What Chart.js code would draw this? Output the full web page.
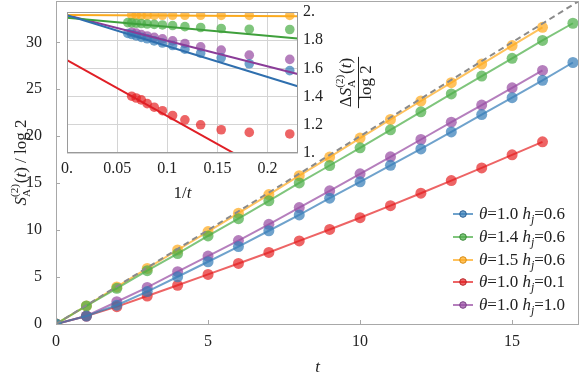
<!DOCTYPE html>
<html>
<head>
<meta charset="utf-8">
<script src="https://cdn.jsdelivr.net/npm/chart.js@4.4.1/dist/chart.umd.min.js"></script>
<style>
html,body{margin:0;padding:0;background:#fff;}
#wrap{position:relative;width:581px;height:379px;}
#main{position:absolute;left:0;top:0;width:581px;height:379px;}
#inset{position:absolute;left:0;top:0;width:400px;height:215px;}
</style>
</head>
<body>
<div id="wrap">
<canvas id="main" width="581" height="379"></canvas>
<canvas id="inset" width="400" height="215"></canvas>
</div>
<script>
// main panel: S_A^(2)(t)/log2 against t
const times = [0,1,2,3,4,5,6,7,8,9,10,11,12,13,14,15,16,17];
const sBlue   = [0,0.85,2.0,3.45,5.03,6.63,8.25,9.93,11.62,13.4,15.14,16.9,18.65,20.45,22.3,24.1,25.95,27.85];
const sGreen  = [0,1.92,3.8,5.68,7.5,9.38,11.22,13.12,15.03,16.88,18.76,20.68,22.6,24.5,26.4,28.3,30.2,32.03];
const sOrange = [0,1.93,3.95,5.92,7.88,9.84,11.8,13.78,15.8,17.78,19.8,21.78,23.75,25.7,27.68,29.65,31.6];
const sRed    = [0,0.85,1.85,2.98,4.12,5.28,6.45,7.62,8.85,10.07,11.32,12.6,13.93,15.27,16.62,18.02,19.4];
const sPurple = [0,0.85,2.37,3.9,5.57,7.23,8.88,10.62,12.4,14.18,16.0,17.8,19.65,21.5,23.32,25.15,27.0];
const boundX = [0,17.5];
const boundY = [0,35];

// inset: Delta S / log2 against 1/t
const invT13 = [0.0606,0.0645,0.0690,0.0741,0.0800,0.0870,0.0952,0.1053,0.1176,0.1333,0.1538,0.1818,0.2222];
const invT12 = [0.0645,0.0690,0.0741,0.0800,0.0870,0.0952,0.1053,0.1176,0.1333,0.1538,0.1818,0.2222];
const dBlue   = [1.848,1.84,1.83,1.82,1.81,1.795,1.78,1.762,1.736,1.708,1.675,1.633,1.584];
const dGreen  = [1.925,1.923,1.92,1.918,1.915,1.912,1.908,1.904,1.896,1.89,1.883,1.878,1.876];
const dOrange = [1.978,1.978,1.977,1.977,1.977,1.977,1.977,1.977,1.977,1.976,1.976,1.976];
const dRed    = [1.403,1.39,1.377,1.35,1.325,1.30,1.266,1.235,1.2,1.165,1.146,1.135];
const dPurple = [1.857,1.85,1.84,1.83,1.82,1.81,1.795,1.777,1.753,1.73,1.694,1.664];
const fitX = [0,0.23];
const fitBlue   = [1.977,1.473];
const fitGreen  = [1.96,1.812];
const fitOrange = [1.978,1.97];
const fitRed    = [1.659,0.746];
const fitPurple = [1.977,1.56];

const legendTheta = ['1.0','1.4','1.5','1.0','1.0'];
const legendH     = ['0.6','0.6','0.6','0.1','1.0'];

const SERIF = '"Liberation Serif", "DejaVu Serif", serif';
const C = {
  blue:   {pt:'rgba(55,126,184,0.72)', ln:'#2f6fae', dk:'#2a5f94'},
  green:  {pt:'rgba(77,175,74,0.72)',  ln:'#3fa03c', dk:'#3a8a37'},
  orange: {pt:'rgba(255,170,30,0.72)', ln:'#fbaa1e', dk:'#d98c10'},
  red:    {pt:'rgba(228,26,28,0.68)',  ln:'#e01f26', dk:'#b8262a'},
  purple: {pt:'rgba(152,78,163,0.72)', ln:'#8a3c98', dk:'#7a3f86'}
};
const order = ['blue','green','orange','red','purple'];

const pts = (xs, ys) => ys.map((v,i) => ({x: xs[i], y: v}));

// draw a run of text pieces with different fonts / offsets
function runWidth(ctx, runs){
  let w = 0;
  runs.forEach(r => { ctx.font = r.f; w += (r.w !== undefined) ? r.w : ctx.measureText(r.t).width; });
  return w;
}
function drawRuns(ctx, runs, x, y, align){
  let cx = x;
  if (align === 'center') cx = x - runWidth(ctx, runs)/2;
  runs.forEach(r => {
    ctx.font = r.f;
    ctx.fillText(r.t, cx, y + (r.dy || 0));
    cx += (r.w !== undefined) ? r.w : ctx.measureText(r.t).width;
  });
}
const it = s => 'italic ' + s + 'px ' + SERIF;
const rm = s => s + 'px ' + SERIF;

// keep chart areas where the reference has them
function noPad(s){ s.paddingTop = 0; s.paddingBottom = 0; s.paddingLeft = 0; s.paddingRight = 0; }

const mainDecor = {
  id: 'mainDecor',
  afterDraw(chart){
    const ctx = chart.ctx, a = chart.chartArea;
    const xs = chart.scales.x, ys = chart.scales.y;
    ctx.save();
    ctx.strokeStyle = '#a8a8a8';
    ctx.lineWidth = 1;
    ctx.strokeRect(a.left + 0.5, a.top + 0.5, a.right - a.left - 1, a.bottom - a.top);
    ctx.beginPath();
    xs.ticks.forEach(t => { const p = Math.round(xs.getPixelForValue(t.value)) + 0.5; ctx.moveTo(p, a.bottom); ctx.lineTo(p, a.bottom - 4); });
    ys.ticks.forEach(t => { const p = Math.round(ys.getPixelForValue(t.value)) + 0.5; ctx.moveTo(a.left, p); ctx.lineTo(a.left + 4, p); });
    ctx.stroke();

    ctx.fillStyle = '#222';
    ctx.textBaseline = 'alphabetic';
    // x title
    drawRuns(ctx, [{t:'t', f:it(17)}], (a.left + a.right)/2, 372, 'center');
    // y title
    ctx.save();
    ctx.translate(26, (a.top + a.bottom)/2);
    ctx.rotate(-Math.PI/2);
    ctx.font = rm(11);
    const w2 = ctx.measureText('(2)').width;
    drawRuns(ctx, [
      {t:'S', f:it(17)},
      {t:'(2)', f:rm(11), dy:-8, w:0},
      {t:'A', f:rm(11), dy:4, w:w2 + 1},
      {t:'(', f:rm(17)}, {t:'t', f:it(17)}, {t:')', f:rm(17)},
      {t:' / log 2', f:rm(17)}
    ], 0, 0, 'center');
    ctx.restore();

    // legend
    const lx = 453, rows = [214, 237, 260, 282, 305];
    order.forEach((k, i) => {
      const y = rows[i];
      ctx.strokeStyle = C[k].pt;
      ctx.lineWidth = 2;
      ctx.beginPath(); ctx.moveTo(lx, y); ctx.lineTo(lx + 20, y); ctx.stroke();
      ctx.beginPath(); ctx.arc(lx + 10, y, 3.3, 0, Math.PI*2);
      ctx.fillStyle = C[k].pt; ctx.fill();
      ctx.lineWidth = 1; ctx.strokeStyle = C[k].dk; ctx.stroke();
      ctx.fillStyle = '#222';
      drawRuns(ctx, [
        {t:'\u03b8', f:it(17)}, {t:'=' + legendTheta[i] + ' ', f:rm(17)},
        {t:'h', f:it(17)}, {t:'j', f:it(12), dy:4}, {t:'=' + legendH[i], f:rm(17)}
      ], lx + 26, y + 5, 'left');
    });
    ctx.restore();
  }
};

const mainSets = [
  {data: pts(boundX, boundY), borderColor:'#8a8a8a', borderWidth:2, borderDash:[6,4], pointRadius:0, showLine:true},
  {data: pts(times, sBlue),   color:'blue'},
  {data: pts(times, sGreen),  color:'green'},
  {data: pts(times, sOrange), color:'orange'},
  {data: pts(times, sRed),    color:'red'},
  {data: pts(times, sPurple), color:'purple'}
].map(d => d.color ? {
  data: d.data, showLine:true, borderColor:C[d.color].pt, borderWidth:2,
  pointRadius:5.5, pointBackgroundColor:C[d.color].pt, pointBorderWidth:0
} : d);

new Chart(document.getElementById('main'), {
  type: 'scatter',
  data: {datasets: mainSets},
  options: {
    responsive:false, animation:false, events:[],
    layout:{autoPadding:false, padding:{top:1, right:2, left:0, bottom:0}},
    plugins:{legend:{display:false}, tooltip:{enabled:false}},
    scales:{
      x:{type:'linear', min:0, max:17.2,
         grid:{display:false}, border:{display:false},
         ticks:{stepSize:5, includeBounds:false, padding:0, color:'#222', font:{family:SERIF, size:16}},
         afterFit(s){ s.height = 55; noPad(s); }},
      y:{type:'linear', min:0, max:34.4,
         grid:{display:false}, border:{display:false},
         ticks:{stepSize:5, includeBounds:false, padding:6, color:'#222', font:{family:SERIF, size:16}},
         afterFit(s){ s.width = 56; noPad(s); }}
    }
  },
  plugins:[mainDecor]
});

const insetDecor = {
  id: 'insetDecor',
  beforeDraw(chart){
    const ctx = chart.ctx, a = chart.chartArea;
    ctx.save(); ctx.fillStyle = '#fff';
    ctx.fillRect(a.left, a.top, a.right - a.left, a.bottom - a.top);
    ctx.restore();
  },
  afterDraw(chart){
    const ctx = chart.ctx, a = chart.chartArea;
    ctx.save();
    ctx.strokeStyle = '#9a9a9a'; ctx.lineWidth = 1;
    ctx.strokeRect(a.left + 0.5, a.top + 0.5, a.right - a.left - 1, a.bottom - a.top - 1);
    ctx.fillStyle = '#222';
    ctx.textBaseline = 'alphabetic';
    drawRuns(ctx, [{t:'1/', f:rm(17)}, {t:'t', f:it(17)}], (a.left + a.right)/2, 198, 'center');
    // right fraction title
    ctx.translate(358, (a.top + a.bottom)/2);
    ctx.rotate(-Math.PI/2);
    ctx.font = rm(11);
    const w2 = ctx.measureText('(2)').width;
    const num = [
      {t:'\u0394', f:rm(17)}, {t:'S', f:it(17)},
      {t:'(2)', f:rm(11), dy:-8, w:0},
      {t:'A', f:rm(11), dy:4, w:w2 + 1},
      {t:'(', f:rm(17)}, {t:'t', f:it(17)}, {t:')', f:rm(17)}
    ];
    drawRuns(ctx, num, 0, -7, 'center');
    const nw = runWidth(ctx, num);
    ctx.strokeStyle = '#222'; ctx.lineWidth = 1;
    ctx.beginPath(); ctx.moveTo(-nw/2 - 1, 0.5); ctx.lineTo(nw/2 + 1, 0.5); ctx.stroke();
    drawRuns(ctx, [{t:'log 2', f:rm(17)}], 0, 13, 'center');
    ctx.restore();
  }
};

const insetSets = [];
const insetData = {
  blue:[invT13, dBlue, fitBlue], green:[invT13, dGreen, fitGreen], orange:[invT12, dOrange, fitOrange],
  red:[invT12, dRed, fitRed], purple:[invT12, dPurple, fitPurple]
};
order.forEach(k => {
  insetSets.push({data: pts(fitX, insetData[k][2]), showLine:true, borderColor:C[k].ln, borderWidth:2, pointRadius:0});
});
order.forEach(k => {
  insetSets.push({data: pts(insetData[k][0], insetData[k][1]), showLine:false,
    pointRadius:4.8, pointBackgroundColor:C[k].pt, pointBorderWidth:0});
});

const fmtTick = v => {
  const r = Math.round(v*100)/100;
  return Number.isInteger(r) ? r + '.' : String(r);
};

new Chart(document.getElementById('inset'), {
  type: 'scatter',
  data: {datasets: insetSets},
  options: {
    responsive:false, animation:false, events:[],
    layout:{autoPadding:false, padding:{top:12, left:67, right:0, bottom:0}},
    plugins:{legend:{display:false}, tooltip:{enabled:false}},
    scales:{
      x:{type:'linear', min:0, max:0.2304,
         grid:{color:'#d4d4d4', lineWidth:1, drawTicks:false}, border:{display:false},
         ticks:{stepSize:0.05, includeBounds:false, padding:6, color:'#222', font:{family:SERIF, size:16}, callback:fmtTick},
         afterFit(s){ s.height = 62; noPad(s); }},
      y:{type:'linear', position:'right', min:1, max:2,
         grid:{color:'#d4d4d4', lineWidth:1, drawTicks:false}, border:{display:false},
         ticks:{stepSize:0.2, padding:5, color:'#222', font:{family:SERIF, size:16}, callback:fmtTick},
         afterFit(s){ s.width = 102; noPad(s); }}
    }
  },
  plugins:[insetDecor]
});
</script>
</body>
</html>
